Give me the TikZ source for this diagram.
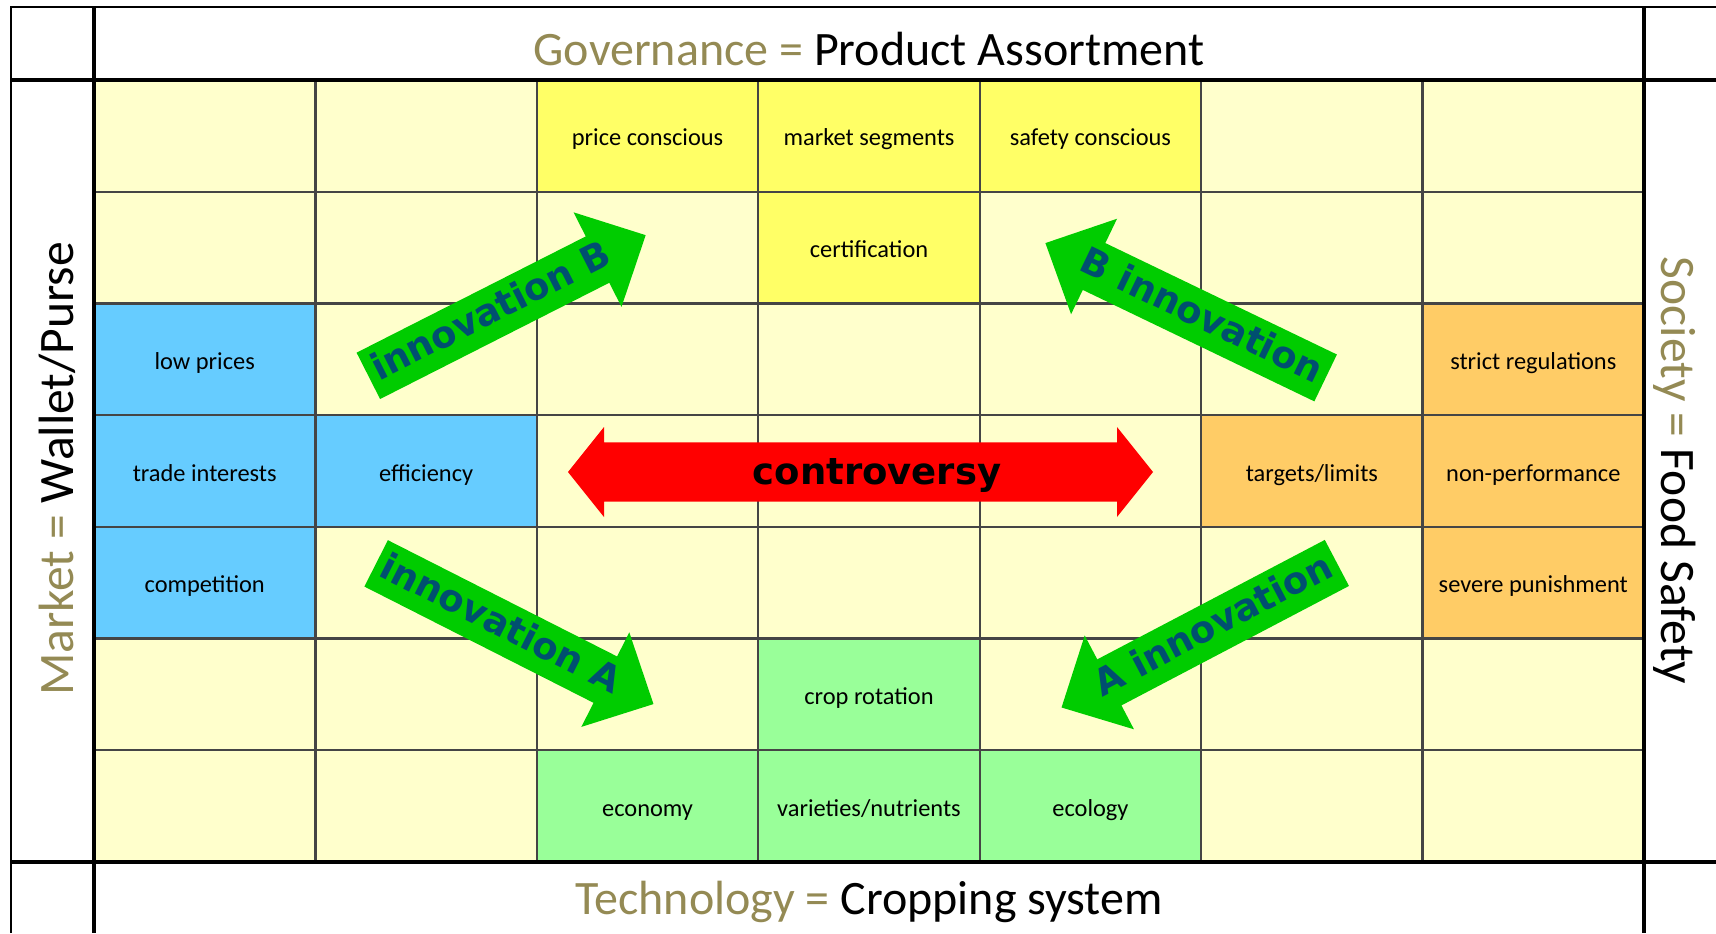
\documentclass[tikz,border=0pt]{standalone}
\usepackage{fontspec}
\setmainfont{Carlito}
\newfontfamily\arrowfont{DejaVu Sans}
\definecolor{pale}{HTML}{FFFFCC}
\definecolor{yel}{HTML}{FFFF66}
\definecolor{blu}{HTML}{66CCFF}
\definecolor{ora}{HTML}{FFCC66}
\definecolor{grn}{HTML}{99FF99}
\definecolor{agreen}{HTML}{00CC00}
\definecolor{atext}{HTML}{004F70}
\definecolor{olive}{HTML}{948A54}
\definecolor{gridgray}{HTML}{454545}
\newcommand{\greenarrow}[6]{%
  \begin{scope}[shift={(#1,#2)}, rotate=#3, xscale=#4]
    \fill[agreen] (-155.5,-26) -- (101.5,-26) -- (101.5,-53) -- (155.5,0)
      -- (101.5,53) -- (101.5,26) -- (-155.5,26) -- cycle;
  \end{scope}
  \begin{scope}[shift={(#1,#2)}, rotate=#3]
    \node[arrowlabel, rotate=#3, anchor=base] (#5) at ({-17*#4},10) {#6};
  \end{scope}%
}
\begin{document}
\begin{tikzpicture}[x=0.5pt,y=-0.5pt,
  cell/.style={draw=gridgray, line width=1.1pt, minimum width=110.714pt,
    minimum height=55.857pt, inner sep=0pt, text height=10pt, text depth=0pt,
    font=\fontsize{12.2}{14}\selectfont, anchor=center},
  thinline/.style={line width=1pt, black},
  thickline/.style={line width=2pt, black},
  title/.style={anchor=base, font=\fontsize{24}{28}\selectfont, inner sep=0pt},
  vtitle/.style={anchor=base, font=\fontsize{24.8}{28}\selectfont, inner sep=0pt},
  arrowlabel/.style={text=atext, font=\arrowfont\bfseries\fontsize{18.5}{22}\selectfont, inner sep=0pt}]
\useasboundingbox (0,0) rectangle (1716,933);
\fill[white] (0,0) rectangle (1716,933);
% background cells
\foreach \r in {0,...,6}{
  \foreach \c in {0,...,6}{
    \node[cell, fill=pale] (c\r\c) at ({94+221.4286*(\c+0.5)}, {80+111.714*(\r+0.5)}) {};
  }
}
% coloured cells
\node[cell, fill=yel] (price) at (c02) {price conscious};
\node[cell, fill=yel] (segm) at (c03) {market segments};
\node[cell, fill=yel] (safety) at (c04) {safety conscious};
\node[cell, fill=yel] (cert) at (c13) {certification};
\node[cell, fill=blu] (low) at (c20) {low prices};
\node[cell, fill=blu] (trade) at (c30) {trade interests};
\node[cell, fill=blu] (eff) at (c31) {efficiency};
\node[cell, fill=blu] (comp) at (c40) {competition};
\node[cell, fill=ora] (strict) at (c26) {strict regulations};
\node[cell, fill=ora] (targets) at (c35) {targets/limits};
\node[cell, fill=ora] (nonperf) at (c36) {non-performance};
\node[cell, fill=ora] (severe) at (c46) {severe punishment};
\node[cell, fill=grn] (crop) at (c53) {crop rotation};
\node[cell, fill=grn] (econ) at (c62) {economy};
\node[cell, fill=grn] (vari) at (c63) {varieties/nutrients};
\node[cell, fill=grn] (ecol) at (c64) {ecology};
% frame
\draw[thinline] (11,933) -- (11,7) -- (1716,7);
\draw[thickline] (11,80) -- (1716,80);
\draw[thickline] (11,862) -- (1716,862);
\draw[thickline] (94,7) -- (94,933);
\draw[thickline] (1644,7) -- (1644,933);
% titles
\node[title] (gov) at (869,65) {\textcolor{olive}{Governance =} Product Assortment};
\node[title] (tech) at (869,914) {\textcolor{olive}{Technology =} Cropping system};
\node[vtitle, rotate=90] (mkt) at (73.3,469) {\textcolor{olive}{Market =} Wallet/Purse};
\node[vtitle, rotate=-90] (soc) at (1661,470.5) {\textcolor{olive}{Society =} Food Safety};
% controversy arrow
\fill[red] (568,472) -- (604,427) -- (604,442.3) -- (1117,442.3) -- (1117,427)
  -- (1153,472) -- (1117,517) -- (1117,501.7) -- (604,501.7) -- (604,517) -- cycle;
\node[anchor=base, inner sep=0pt, font=\arrowfont\bfseries\fontsize{18.5}{22}\selectfont] (contro) at (877,484) {controversy};
% innovation arrows
\greenarrow{507}{305.5}{26.9}{1}{innovB}{innovation B}
\greenarrow{1185.5}{310.5}{-25.7}{-1}{Binnov}{B innovation}
\greenarrow{514.8}{633.7}{-26.9}{1}{innovA}{innovation A}
\greenarrow{1199.2}{635.2}{27.7}{-1}{Ainnov}{A innovation}
\end{tikzpicture}
\end{document}
